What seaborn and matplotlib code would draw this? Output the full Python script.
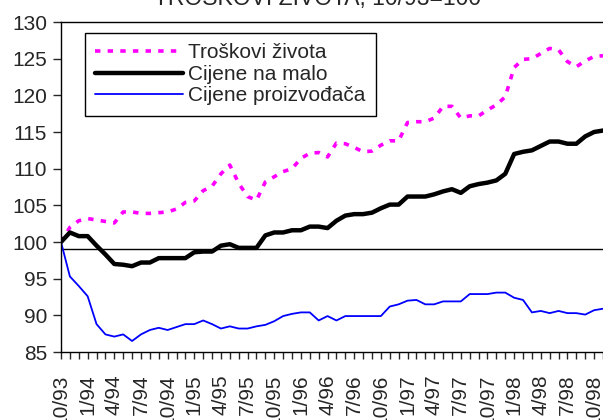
import numpy as np
import pandas as pd
import seaborn as sns
import matplotlib.pyplot as plt
from matplotlib.ticker import MultipleLocator

# -------------------------------
# 1. Data (monthly, 10/93 .. 11/98, index 10/93 = 100)
# -------------------------------
cost_of_living = [
    100.0, 102.0, 102.9, 103.2, 103.0, 102.8, 102.6, 104.1, 104.1, 103.9,
    103.9, 104.0, 104.1, 104.5, 105.4, 105.6, 107.0, 107.6, 109.3, 110.5,
    108.0, 106.2, 105.7, 108.2, 108.9, 109.6, 110.0, 111.4, 112.1, 112.2,
    111.6, 113.5, 113.4, 112.9, 112.3, 112.4, 113.2, 113.8, 113.8, 116.3,
    116.4, 116.4, 116.9, 118.5, 118.5, 116.9, 117.2, 117.2, 118.0, 118.7,
    119.8, 123.8, 124.9, 125.0, 125.7, 126.4, 126.2, 124.6, 123.9, 124.7,
    125.3, 125.4,
]
retail_prices = [
    100.0, 101.3, 100.8, 100.8, 99.5, 98.3, 97.0, 96.9, 96.7, 97.2,
    97.2, 97.8, 97.8, 97.8, 97.8, 98.6, 98.7, 98.7, 99.5, 99.7,
    99.2, 99.2, 99.2, 100.9, 101.3, 101.3, 101.6, 101.6, 102.1, 102.1,
    101.9, 102.9, 103.6, 103.8, 103.8, 104.0, 104.6, 105.1, 105.1, 106.2,
    106.2, 106.2, 106.5, 106.9, 107.2, 106.7, 107.6, 107.9, 108.1, 108.4,
    109.3, 112.0, 112.3, 112.5, 113.1, 113.7, 113.7, 113.4, 113.4, 114.4,
    115.0, 115.2,
]
producer_prices = [
    100.0, 95.3, 94.0, 92.6, 88.8, 87.4, 87.1, 87.4, 86.5, 87.4,
    88.0, 88.3, 88.0, 88.4, 88.8, 88.8, 89.3, 88.8, 88.2, 88.5,
    88.2, 88.2, 88.5, 88.7, 89.2, 89.9, 90.2, 90.4, 90.4, 89.3,
    89.9, 89.3, 89.9, 89.9, 89.9, 89.9, 89.9, 91.2, 91.5, 92.0,
    92.1, 91.5, 91.5, 91.9, 91.9, 91.9, 92.9, 92.9, 92.9, 93.1,
    93.1, 92.4, 92.1, 90.4, 90.6, 90.3, 90.6, 90.3, 90.3, 90.1,
    90.7, 90.9,
]
tick_labels = [
    "10/93", "1/94", "4/94", "7/94", "10/94", "1/95", "4/95", "7/95",
    "10/95", "1/96", "4/96", "7/96", "10/96", "1/97", "4/97", "7/97",
    "10/97", "1/98", "4/98", "7/98", "10/98",
]
series_names = ["Troškovi života", "Cijene na malo", "Cijene proizvođača"]

# -------------------------------
# 2. Long-form table for seaborn
# -------------------------------
months = np.arange(len(cost_of_living))
df = pd.DataFrame({
    "month": np.concatenate([months, months, months]),
    "value": cost_of_living + retail_prices + producer_prices,
    "series": np.repeat(series_names, len(months)),
})

# -------------------------------
# 3. Plot
# -------------------------------
sns.set_style("white")
plt.rcParams["font.family"] = ["Liberation Sans", "DejaVu Sans"]
FS = 15

fig = plt.figure(figsize=(6.03, 4.2), dpi=100)
ax = fig.add_axes([61 / 603, 1 - 352 / 420, 542 / 603, 330 / 420])

palette = {series_names[0]: "#FF00FF", series_names[1]: "black", series_names[2]: "#0000FF"}
widths = {series_names[0]: 2.6, series_names[1]: 3.2, series_names[2]: 1.3}

sns.lineplot(data=df, x="month", y="value", hue="series", palette=palette,
             hue_order=series_names, ax=ax, legend=False)
for line, name in zip(ax.lines, series_names):
    line.set_linewidth(widths[name])
    line.set_label(name)
ax.lines[0].set_dashes([1.5, 2.0])
ax.lines[0].set_dash_capstyle("butt")

ax.axhline(99, color="black", lw=1.0, zorder=1)

ax.set_xlim(0, 61)
ax.set_ylim(85, 130)
ax.yaxis.set_major_locator(MultipleLocator(5))
ax.set_xticks(np.arange(0, 61, 3))
ax.set_xticklabels(tick_labels, rotation=90)
ax.xaxis.set_minor_locator(MultipleLocator(1))
ax.tick_params(axis="y", direction="out", length=6, width=1, labelsize=FS, pad=4, left=True)
ax.tick_params(axis="x", which="both", direction="out", length=5, width=1, bottom=True)
ax.tick_params(axis="x", which="major", labelsize=FS, pad=11)
ax.set_xlabel("")
ax.set_ylabel("")

for side in ["left", "bottom", "top"]:
    ax.spines[side].set_color("black")
    ax.spines[side].set_linewidth(1.0)
ax.spines["right"].set_visible(False)

leg = ax.legend(loc="upper left", bbox_to_anchor=(0.044, 0.967), fontsize=FS,
                frameon=True, fancybox=False, framealpha=1, edgecolor="black",
                handlelength=4.2, handletextpad=0.25, labelspacing=0.12,
                borderpad=0.5, borderaxespad=0)
leg.get_frame().set_linewidth(1.0)

fig.text(318 / 603, 1 - 5 / 420, "TROŠKOVI ŽIVOTA, 10/93=100", ha="center",
         va="baseline", fontsize=16.5)

plt.savefig("out.png", dpi=100)
